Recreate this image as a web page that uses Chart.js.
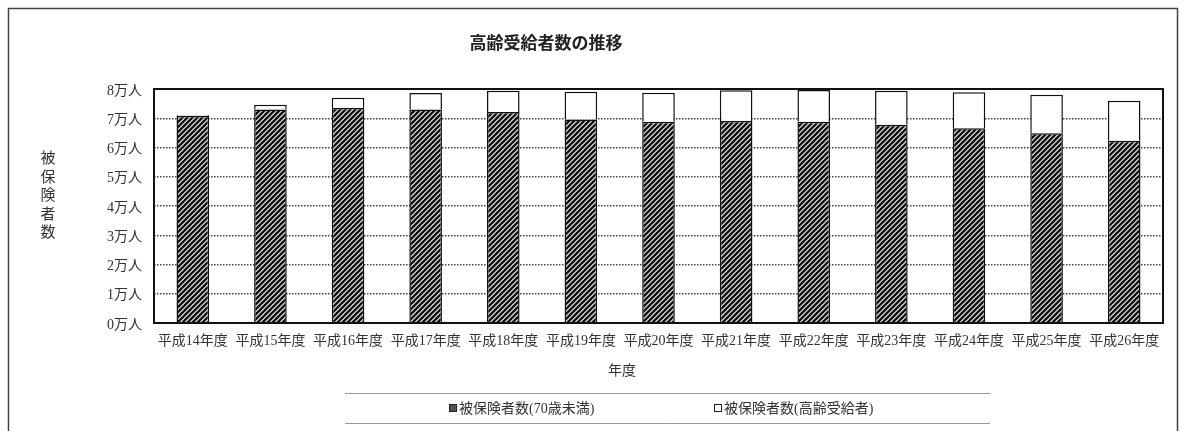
<!DOCTYPE html>
<html><head><meta charset="utf-8">
<script src="https://cdn.jsdelivr.net/npm/chart.js@4"></script>
<style>html,body{margin:0;padding:0;background:#fff}#wrap{width:1186px;height:431px;position:relative}</style>
</head><body><div id="wrap"><canvas id="c" width="1186" height="431"></canvas></div>
<script>
const categories = ['平成14年度','平成15年度','平成16年度','平成17年度','平成18年度','平成19年度','平成20年度','平成21年度','平成22年度','平成23年度','平成24年度','平成25年度','平成26年度'];
const under70 = [7.08, 7.30, 7.35, 7.30, 7.21, 6.96, 6.88, 6.91, 6.88, 6.78, 6.66, 6.49, 6.23];
const elderly = [0.02, 0.16, 0.35, 0.56, 0.73, 0.95, 0.99, 1.05, 1.09, 1.16, 1.23, 1.31, 1.37];
const yTicks = [0,1,2,3,4,5,6,7,8];
const seriesNames = ['被保険者数(70歳未満)','被保険者数(高齢受給者)'];
const chartTitle = '高齢受給者数の推移';
const yTitle = '被保険者数';
const xTitle = '年度';

const FONT = "'Liberation Serif','Noto Sans CJK JP'";

function hatch(){
  const p = document.createElement('canvas');
  p.width = 5; p.height = 5;
  const g = p.getContext('2d');
  g.fillStyle = '#f4f4f4'; g.fillRect(0,0,5,5);
  g.strokeStyle = '#111'; g.lineWidth = 2.4;
  g.beginPath();
  g.moveTo(-1,6); g.lineTo(6,-1);
  g.moveTo(-1,1); g.lineTo(1,-1);
  g.moveTo(4,6); g.lineTo(6,4);
  g.stroke();
  return g.createPattern(p,'repeat');
}
const ctx0 = document.getElementById('c').getContext('2d');
const hatchPat = hatch();

const deco = {
  id:'deco',
  afterDraw(chart){
    const c = chart.ctx, a = chart.chartArea;
    c.save();
    // frame
    c.strokeStyle = '#444'; c.lineWidth = 1.5;
    c.beginPath(); c.moveTo(8.5,431); c.lineTo(8.5,8.5); c.lineTo(1177.5,8.5); c.lineTo(1177.5,431); c.stroke();
    // plot border
    c.strokeStyle = '#111'; c.lineWidth = 2;
    c.strokeRect(a.left, a.top, a.right-a.left, a.bottom-a.top);
    // title
    c.fillStyle = '#222'; c.textAlign = 'center'; c.textBaseline = 'middle';
    c.font = "bold 17px 'Noto Sans CJK JP'";
    c.fillText(chartTitle, 546, 43);
    // y title vertical
    c.font = "15px " + FONT; c.fillStyle = '#333';
    const ys = [159,178,196,215,233];
    for (let i=0;i<yTitle.length;i++) c.fillText(yTitle[i], 48, ys[i]);
    // x title
    c.font = "14px " + FONT;
    c.fillText(xTitle, 622, 371);
    // legend lines
    c.strokeStyle = '#999'; c.lineWidth = 1;
    c.beginPath(); c.moveTo(345,393.5); c.lineTo(990,393.5); c.moveTo(345,423.5); c.lineTo(990,423.5); c.stroke();
    // legend items
    c.textAlign = 'left';
    c.fillStyle = '#555'; c.fillRect(449,404,8,8);
    c.strokeStyle = '#222'; c.strokeRect(449.5,404.5,7,7);
    c.fillStyle = '#333'; c.fillText(seriesNames[0], 459, 409);
    c.fillStyle = '#fff'; c.fillRect(714,404,8,8);
    c.strokeStyle = '#222'; c.strokeRect(714.5,404.5,7,7);
    c.fillStyle = '#333'; c.fillText(seriesNames[1], 724, 409);
    c.restore();
  }
};

new Chart(ctx0, {
  type:'bar',
  data:{
    labels: categories,
    datasets:[
      {label:seriesNames[0], data:under70, backgroundColor:hatchPat, borderColor:'#111', borderWidth:1.5, barPercentage:0.42, categoryPercentage:1},
      {label:seriesNames[1], data:elderly, backgroundColor:'#fff', borderColor:'#111', borderWidth:1.5, barPercentage:0.42, categoryPercentage:1}
    ]
  },
  options:{
    responsive:false, animation:false, devicePixelRatio:1,
    layout:{padding:{left:0, top:89, right:23, bottom:0}},
    plugins:{legend:{display:false}, title:{display:false}, tooltip:{enabled:false}},
    scales:{
      x:{stacked:true,
        grid:{display:false}, border:{display:false},
        ticks:{color:'#333', font:{family:FONT, size:14}, padding:2, maxRotation:0, autoSkip:false},
        afterFit(s){ s.height = 108; }
      },
      y:{stacked:true, min:0, max:8,
        afterBuildTicks(s){ s.ticks = yTicks.map(v=>({value:v})); },
        grid:{color:'#444', lineWidth:1.5, drawTicks:false},
        border:{display:false, dash:[1.5,1.5]},
        ticks:{color:'#333', font:{family:FONT, size:14}, padding:12, labelOffset:2, callback:v=>v+'万人'},
        afterFit(s){ s.width = 154; }
      }
    }
  },
  plugins:[deco]
});
</script></body></html>
